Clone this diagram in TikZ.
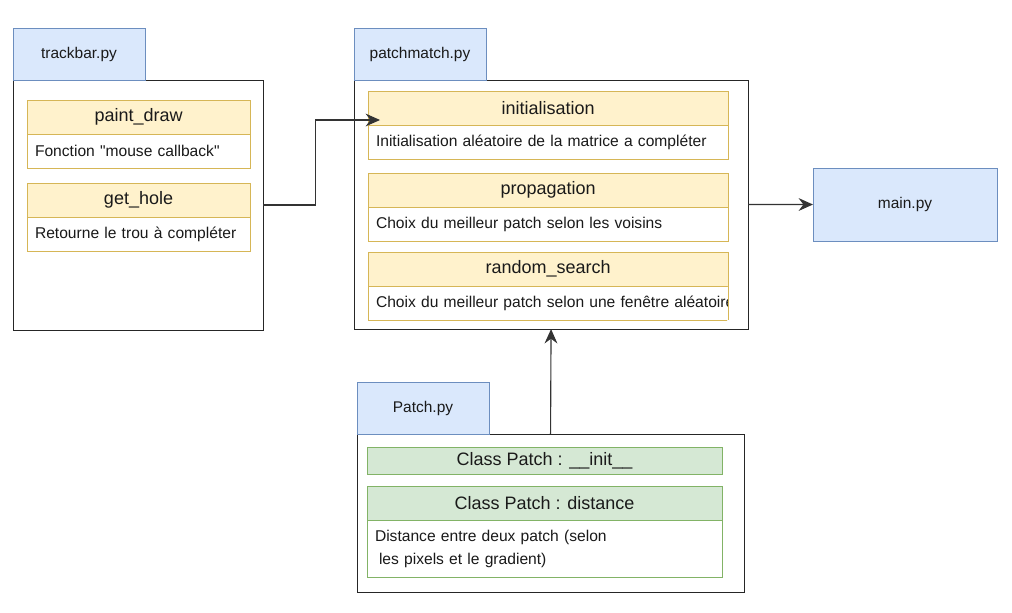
\documentclass[tikz,border=0pt]{standalone}
\usepackage{fontspec}
\setmainfont{Liberation Sans}[Ligatures=TeXOff]
\usetikzlibrary{arrows.meta,positioning}
\definecolor{tabblue}{HTML}{DAE8FC}
\definecolor{tabline}{HTML}{6C8EBF}
\definecolor{headyellow}{HTML}{FFF2CC}
\definecolor{yellowline}{HTML}{D6B656}
\definecolor{headgreen}{HTML}{D5E8D4}
\definecolor{greenline}{HTML}{82B366}
\definecolor{txt}{HTML}{1A1A1A}

\begin{document}
\begin{tikzpicture}[x=0.025cm,y=-0.025cm,
  every node/.style={inner sep=0pt,outer sep=0pt,text=txt},
  tab/.style={draw=tabline,fill=tabblue,line width=0.6pt,anchor=north west,
    minimum width=3.3cm,minimum height=1.3cm,font=\fontsize{11}{13}\selectfont},
  module/.style={draw=black!85,fill=white,line width=0.7pt,anchor=north west},
  head/.style={draw=yellowline,fill=headyellow,line width=0.6pt,anchor=north west,
    minimum width=#1,minimum height=0.85cm,font=\fontsize{12.8}{15}\selectfont},
  body/.style={draw=yellowline,fill=white,line width=0.6pt,anchor=north west,
    text width=#1-0.4cm,inner xsep=0.2cm,minimum height=0.85cm,align=left,
    font=\fontsize{11.1}{16.4}\selectfont},
  conn/.style={draw=black!80,line width=0.8pt,-{Stealth[length=3.6mm,width=3.2mm,inset=1.2mm]}}]
  \useasboundingbox (0,0) rectangle (1012,612);

  % trackbar.py
  \node[module,minimum width=6.25cm,minimum height=6.25cm] (tbbox) at (13,80) {};
  \node[tab] (tbtab) at (13,28) {trackbar.py};
  \node[head=5.575cm] (paint) at (27,100) {paint\_draw};
  \node[body=5.575cm] (paintbody) at (paint.south west) {Fonction "mouse callback"};
  \node[head=5.575cm] (hole) at (27,183) {get\_hole};
  \node[body=5.575cm] (holebody) at (hole.south west) {Retourne le trou à compléter};

  % patchmatch.py
  \node[module,minimum width=9.85cm,minimum height=6.225cm] (pmbox) at (354,80) {};
  \node[tab] (pmtab) at (354,28) {patchmatch.py};
  \node[head=9cm] (init) at (368,91) {initialisation};
  \node[body=9cm] (initbody) at (init.south west) {Initialisation aléatoire de la matrice a compléter};
  \node[head=9cm] (prop) at (368,173) {propagation};
  \node[body=9cm] (propbody) at (prop.south west) {Choix du meilleur patch selon les voisins};
  \node[head=9cm] (rand) at (368,252) {random\_search};
  \begin{scope}
    \clip (360,280) rectangle (727,330);
    \node[body=9cm] (randbody) at (rand.south west) {\mbox{Choix du meilleur patch selon une fenêtre aléatoire}};
  \end{scope}
  \draw[yellowline,line width=0.6pt] (randbody.north east) -- (randbody.south east);

  % main.py
  \node[draw=tabline,fill=tabblue,line width=0.6pt,minimum width=4.6cm,minimum height=1.825cm,
    anchor=north west,font=\fontsize{11}{13}\selectfont] (main) at (813,168) {main.py};

  % Patch.py
  \node[module,minimum width=9.675cm,minimum height=3.95cm] (pbox) at (357,434) {};
  \node[tab] (ptab) at (357,382) {Patch.py};
  \node[head=8.875cm,draw=greenline,fill=headgreen,minimum height=0.675cm] (pinit) at (367,447) {Class Patch : \_\_init\_\_};
  \node[head=8.875cm,draw=greenline,fill=headgreen] (pdist) at (367,486) {Class Patch : distance};
  \node[body=8.875cm,draw=greenline,minimum height=1.425cm] (pdistbody) at (pdist.south west)
    {Distance entre deux patch (selon\\\hspace*{0.1cm}les pixels et le gradient)};

  % liens
  \coordinate (initend) at (380,120);
  \draw[conn] (tbbox.east) -- ++(52,0) |- (initend);
  \draw[conn] (pmbox.east) -- (main.west);
  \draw[conn] (pbox.north) -- (pmbox.south);
\end{tikzpicture}
\end{document}
